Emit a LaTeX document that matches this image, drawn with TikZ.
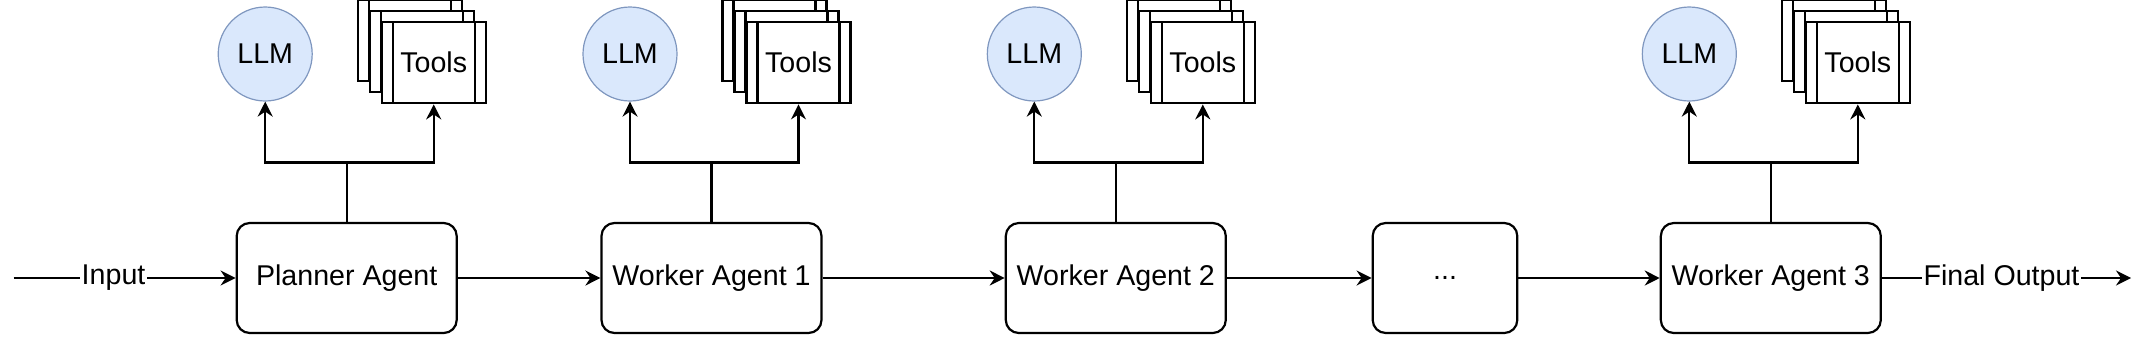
\documentclass[tikz,border=0pt]{standalone}
\usepackage{fontspec}
\setmainfont{Liberation Sans}
\usetikzlibrary{arrows.meta}
\definecolor{llmfill}{HTML}{DAE8FC}
\definecolor{llmedge}{HTML}{7F97BF}
\begin{document}
\begin{tikzpicture}[x=0.5pt,y=-0.5pt,
  font=\fontsize{14.3}{17}\selectfont,
  agent/.style={draw, line width=1.1pt, rounded corners=6.5pt, minimum width=110pt, minimum height=55pt, inner sep=0pt, fill=white},
  llm/.style={circle, draw=llmedge, fill=llmfill, line width=0.6pt, minimum size=47pt, inner sep=0pt},
  toolbox/.style={draw, line width=1.1pt, fill=white, minimum width=52pt, minimum height=40.8pt, inner sep=0pt,
    path picture={\draw[line width=1.1pt]
      ([xshift=5.5pt]path picture bounding box.north west) -- ([xshift=5.5pt]path picture bounding box.south west)
      ([xshift=-5.5pt]path picture bounding box.north east) -- ([xshift=-5.5pt]path picture bounding box.south east);}},
  conn/.style={line width=1.1pt},
  arr/.style={conn, -{Stealth[length=7.5pt,width=7.5pt,inset=2.5pt]}},
  lbl/.style={fill=white, inner sep=1pt}
]
\useasboundingbox (0,0) rectangle (2145,339);

\foreach \n/\c/\t in {p/346.7/Planner Agent, a/711.5/Worker Agent 1, b/1115.8/Worker Agent 2, c/1770.8/Worker Agent 3}{
  \node[agent] (\n) at (\c,278) {\t};
  \node[llm] (\n llm) at (\c-81.5,54) {LLM};
  \node[toolbox] (\n t3) at (\c+63,40.5) {};
  \node[toolbox] (\n t2) at (\c+75,51.5) {};
  \node[toolbox] (\n t1) at (\c+87,62.5) {Tools};
  \coordinate (\n s) at (\c,162.5);
  \draw[conn] (\n.north) -- (\n s);
  \draw[arr] (\n s) -| (\n llm.south);
  \draw[arr] (\n s) -| (\n t1.south);
}

\node[agent, minimum width=72.3pt] (d) at (1445,278) {...};

\coordinate (in) at (13.7,278);
\coordinate (out) at (2131,278);
\draw[arr] (in) -- node[lbl,pos=0.45]{Input} (p.west);
\draw[arr] (p.east) -- (a.west);
\draw[arr] (a.east) -- (b.west);
\draw[arr] (b.east) -- (d.west);
\draw[arr] (d.east) -- (c.west);
\draw[arr] (c.east) -- node[lbl,pos=0.48]{Final Output} (out);
\end{tikzpicture}
\end{document}
